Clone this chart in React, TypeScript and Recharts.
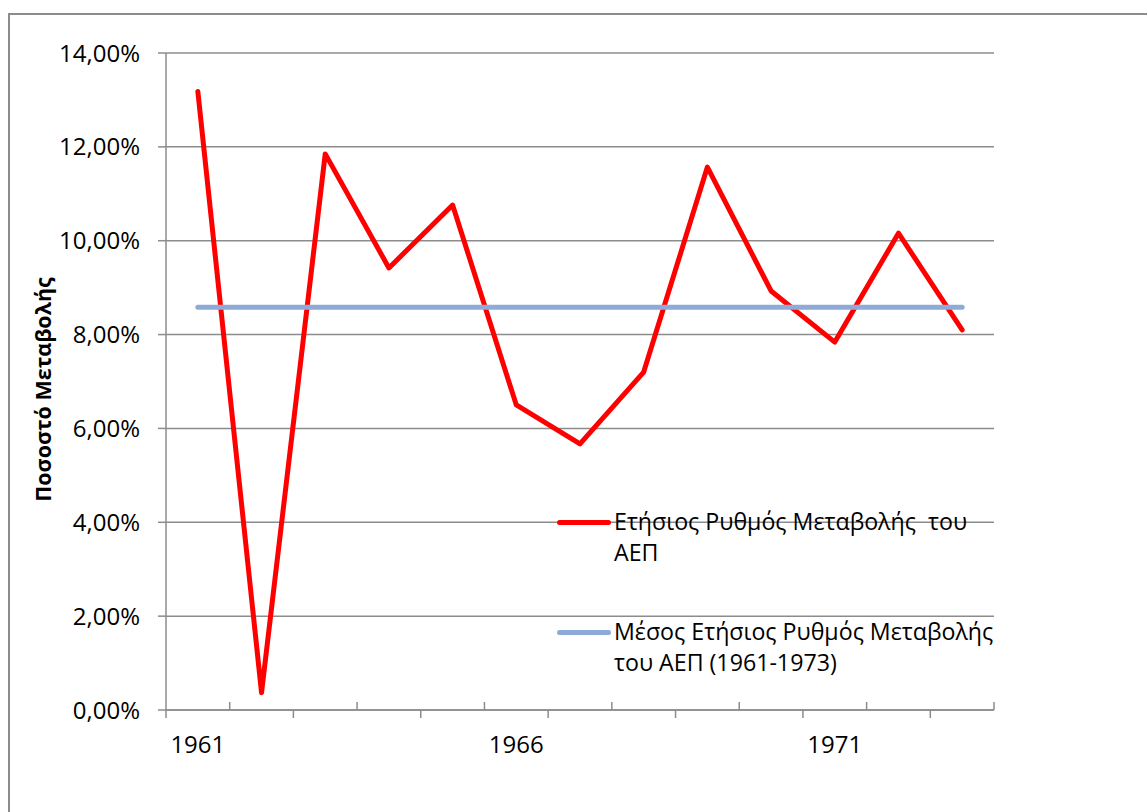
import React from 'react';
import { LineChart, Line, XAxis, YAxis, CartesianGrid, Legend } from 'recharts';

const years = ['1961', '1962', '1963', '1964', '1965', '1966', '1967', '1968', '1969', '1970', '1971', '1972', '1973'];
const annualGrowth = [13.18, 0.37, 11.85, 9.42, 10.76, 6.5, 5.67, 7.2, 11.57, 8.93, 7.84, 10.16, 8.1];
const meanGrowth = [8.58, 8.58, 8.58, 8.58, 8.58, 8.58, 8.58, 8.58, 8.58, 8.58, 8.58, 8.58, 8.58];
const yTicks = [0, 2, 4, 6, 8, 10, 12, 14];
const seriesNames = ['Ετήσιος Ρυθμός Μεταβολής  του\nΑΕΠ', 'Μέσος Ετήσιος Ρυθμός Μεταβολής\nτου ΑΕΠ (1961-1973)'];
const yLabel = 'Ποσοστό Μεταβολής';

const data = years.map((year, i) => ({ year, growth: annualGrowth[i], mean: meanGrowth[i] }));

const W = 1147;
const H = 812;
const PLOT_LEFT = 166;
const PLOT_RIGHT = 994;
const PLOT_TOP = 53;
const PLOT_BOTTOM = 710;
const BAND = (PLOT_RIGHT - PLOT_LEFT) / years.length;
const AXIS = '#8c8c8c';
const FONT = '"Open Sans", sans-serif';

function XTick(props: any) {
  const { x, index, payload } = props;
  const marks: number[] = [index];
  if (index === years.length - 1) marks.push(index + 1);
  return (
    <g>
      {marks.map((k) => {
        const bx = x - BAND / 2 + (k - index) * BAND;
        const down = k % 2 === 0;
        return <line key={k} x1={bx} x2={bx} y1={PLOT_BOTTOM} y2={down ? PLOT_BOTTOM + 8 : PLOT_BOTTOM - 8} stroke={AXIS} strokeWidth={1.5} />;
      })}
      {index % 5 === 0 && (
        <text x={x} y={PLOT_BOTTOM + 43} textAnchor="middle" fontSize={24} fontFamily={FONT} fill="#000">{payload.value}</text>
      )}
    </g>
  );
}

function LegendBox({ payload }: any) {
  return (
    <div style={{ fontFamily: FONT, fontSize: 23.2, color: '#000', textAlign: 'left' }}>
      {(payload || []).map((p: any, i: number) => (
        <div key={i} style={{ display: 'flex', alignItems: 'flex-start', marginBottom: i === 0 ? 48 : 0 }}>
          <div style={{ width: 54, height: 5, borderRadius: 3, background: p.color, marginTop: 14, flex: 'none' }} />
          <div style={{ marginLeft: 3, lineHeight: '31px', whiteSpace: 'pre' }}>{p.value}</div>
        </div>
      ))}
    </div>
  );
}

export default function App() {
  return (
    <div style={{ position: 'absolute', left: 0, top: 0, width: W, height: H, overflow: 'hidden', background: '#fff' }}>
      <div style={{ position: 'absolute', left: 8, top: 13, width: W, height: H, borderTop: `2px solid ${AXIS}`, borderLeft: `2px solid ${AXIS}` }} />
      <div style={{ position: 'absolute', left: 0, top: 0 }}>
        <LineChart width={W} height={H} data={data} margin={{ top: PLOT_TOP, right: W - PLOT_RIGHT, bottom: H - PLOT_BOTTOM - 40, left: 0 }}>
          <CartesianGrid horizontal vertical={false} stroke={AXIS} strokeWidth={1.5} />
          <XAxis
            dataKey="year"
            interval={0}
            height={40}
            padding={{ left: BAND / 2, right: BAND / 2 }}
            tick={<XTick />}
            tickLine={false}
            axisLine={{ stroke: AXIS, strokeWidth: 1.5 }}
          />
          <YAxis
            width={PLOT_LEFT}
            domain={[0, 14]}
            ticks={yTicks}
            tickSize={8}
            tickMargin={18}
            tickFormatter={(v: number) => v.toFixed(2).replace('.', ',') + '%'}
            tick={{ fontSize: 24, fontFamily: FONT, fill: '#000' }}
            tickLine={{ stroke: AXIS, strokeWidth: 1.5 }}
            axisLine={{ stroke: AXIS, strokeWidth: 1.5 }}
            label={({ viewBox }: any) => (
              <text
                x={42}
                y={viewBox.y + viewBox.height / 2 + 8}
                transform={`rotate(-90, 42, ${viewBox.y + viewBox.height / 2 + 8})`}
                textAnchor="middle"
                dominantBaseline="central"
                fontSize={21.5}
                fontWeight="bold"
                fontFamily={FONT}
                fill="#000"
              >
                {yLabel}
              </text>
            )}
          />
          <Line dataKey="growth" name={seriesNames[0]} stroke="#ff0000" strokeWidth={5} strokeLinecap="round" strokeLinejoin="round" dot={false} isAnimationActive={false} />
          <Line dataKey="mean" name={seriesNames[1]} stroke="#8eaad6" strokeWidth={5} strokeLinecap="round" dot={false} isAnimationActive={false} />
          <Legend
            layout="vertical"
            align="center"
            verticalAlign="middle"
            content={<LegendBox />}
            wrapperStyle={{ left: 557, top: 506, width: 470 }}
          />
        </LineChart>
      </div>
    </div>
  );
}
